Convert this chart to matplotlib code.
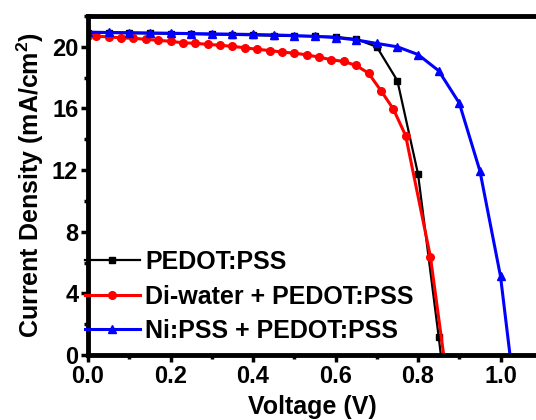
import matplotlib
matplotlib.use("Agg")
import matplotlib.pyplot as plt
from matplotlib.ticker import MultipleLocator

plt.rcParams['font.family'] = ['Liberation Sans', 'DejaVu Sans']
plt.rcParams['font.weight'] = 'bold'
plt.rcParams['mathtext.fontset'] = 'custom'
plt.rcParams['mathtext.rm'] = 'Liberation Sans:bold'
plt.rcParams['mathtext.bf'] = 'Liberation Sans:bold'

# Data
v_pedot = [0.00, 0.05, 0.10, 0.15, 0.20, 0.25, 0.30, 0.35, 0.40, 0.45, 0.50,
           0.55, 0.60, 0.65, 0.70, 0.75, 0.80, 0.85, 0.90]
j_pedot = [20.90, 20.90, 20.88, 20.87, 20.85, 20.83, 20.80, 20.78, 20.75, 20.72,
           20.70, 20.68, 20.65, 20.50, 20.00, 17.80, 11.75, 1.20, -10.0]

v_diw = [0.00, 0.02, 0.05, 0.08, 0.11, 0.14, 0.17, 0.20, 0.23, 0.26, 0.29, 0.32,
         0.35, 0.38, 0.41, 0.44, 0.47, 0.50, 0.53, 0.56, 0.59, 0.62, 0.65,
         0.68, 0.71, 0.74, 0.77, 0.83, 0.89]
j_diw = [20.70, 20.68, 20.65, 20.58, 20.55, 20.49, 20.42, 20.36, 20.26, 20.23,
         20.16, 20.10, 20.03, 19.94, 19.84, 19.76, 19.66, 19.59, 19.48, 19.33,
         19.16, 19.05, 18.79, 18.29, 17.16, 15.97, 14.24, 6.38, -5.5]

v_ni = [0.00, 0.05, 0.10, 0.15, 0.20, 0.25, 0.30, 0.35, 0.40, 0.45, 0.50, 0.55,
        0.60, 0.65, 0.70, 0.75, 0.80, 0.85, 0.90, 0.95, 1.00, 1.05]
j_ni = [20.95, 20.93, 20.92, 20.90, 20.88, 20.86, 20.84, 20.82, 20.80, 20.77,
        20.73, 20.68, 20.60, 20.45, 20.22, 20.00, 19.50, 18.45, 16.35, 11.95,
        5.10, -6.0]

labels = ['PEDOT:PSS', 'Di-water + PEDOT:PSS', 'Ni:PSS + PEDOT:PSS']
xticks = [0.0, 0.2, 0.4, 0.6, 0.8, 1.0]
yticks = [0, 4, 8, 12, 16, 20]

fig = plt.figure(figsize=(5.36, 4.20), dpi=100)
ax = fig.add_axes([88/536, 65/420, 1 - 88/536, (355-16)/420])

ax.plot(v_pedot, j_pedot, color='black', lw=1.6, marker='s', ms=5, label=labels[0], zorder=2)
ax.plot(v_diw, j_diw, color='#ff0000', lw=2.2, marker='o', ms=5.5, label=labels[1], zorder=2.2)
ax.plot(v_ni, j_ni, color='#0000ff', lw=2.2, marker='^', ms=6, label=labels[2], zorder=2.5)

ax.set_xlim(0, 1.086)
ax.set_ylim(0, 22)
ax.set_xticks(xticks)
ax.set_xticklabels([f'{t:.1f}' for t in xticks])
ax.set_yticks(yticks)
ax.set_yticklabels([str(t) for t in yticks])
ax.xaxis.set_minor_locator(MultipleLocator(0.1))
ax.yaxis.set_minor_locator(MultipleLocator(2))

for s in ['left', 'bottom', 'top']:
    ax.spines[s].set_linewidth(3.5)
ax.spines['right'].set_visible(False)
ax.tick_params(which='major', direction='out', length=5, width=2.5, labelsize=17, pad=2)
ax.tick_params(which='minor', direction='out', length=3, width=2.5)
ax.tick_params(axis='both', which='both', top=False, right=False)

ax.set_xlabel('Voltage (V)', fontsize=18, fontweight='bold', labelpad=5)
ax.set_ylabel(r'Current Density (mA/cm$^\mathbf{2}$)', fontsize=18, fontweight='bold', labelpad=4)

leg = ax.legend(loc='lower left', bbox_to_anchor=(-0.018, 0.02), frameon=False,
                fontsize=18, handlelength=2.2, handletextpad=0.2, labelspacing=0.42,
                borderaxespad=0.0, borderpad=0.2)

fig.savefig('out.png', dpi=100)
